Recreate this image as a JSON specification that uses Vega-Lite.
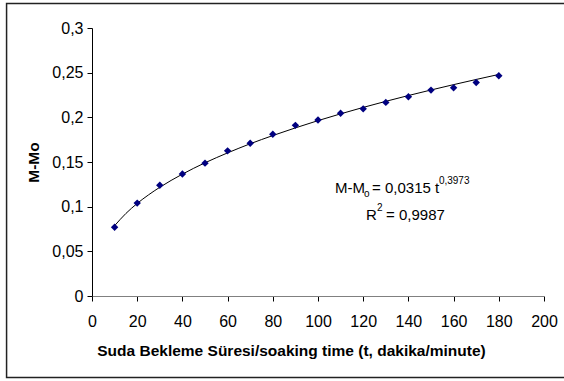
{
  "$schema": "https://vega.github.io/schema/vega-lite/v6.json",
  "autosize": {"type": "none"},
  "width": 452,
  "height": 268,
  "padding": {"left": 92, "top": 28, "right": 20, "bottom": 85},
  "background": "white",
  "config": {
    "view": {"stroke": null},
    "font": "Liberation Sans",
    "axis": {"grid": false, "labelFont": "Liberation Sans", "titleFont": "Liberation Sans", "labelColor": "black", "titleColor": "black", "labelFontSize": 16, "titleFontSize": 15.5, "titleFontWeight": "bold", "tickSize": 5, "labelPadding": 4, "labelFlush": false, "labelOverlap": false}
  },
  "datasets": {
    "obs": [
      {"t": 10, "m": 0.077}, {"t": 20, "m": 0.104}, {"t": 30, "m": 0.124}, {"t": 40, "m": 0.1365},
      {"t": 50, "m": 0.1487}, {"t": 60, "m": 0.1625}, {"t": 70, "m": 0.171}, {"t": 80, "m": 0.181},
      {"t": 90, "m": 0.191}, {"t": 100, "m": 0.197}, {"t": 110, "m": 0.2045}, {"t": 120, "m": 0.2095},
      {"t": 130, "m": 0.2167}, {"t": 140, "m": 0.223}, {"t": 150, "m": 0.2305}, {"t": 160, "m": 0.2331},
      {"t": 170, "m": 0.239}, {"t": 180, "m": 0.2465}
    ],
    "fit": [
      {"t": 10, "m": 0.0787}, {"t": 15, "m": 0.0924}, {"t": 20, "m": 0.1036}, {"t": 25, "m": 0.1132},
      {"t": 30, "m": 0.1217}, {"t": 40, "m": 0.1364}, {"t": 50, "m": 0.1491}, {"t": 60, "m": 0.1602},
      {"t": 70, "m": 0.1704}, {"t": 80, "m": 0.1796}, {"t": 90, "m": 0.1882}, {"t": 100, "m": 0.1963},
      {"t": 110, "m": 0.2039}, {"t": 120, "m": 0.2111}, {"t": 130, "m": 0.2179}, {"t": 140, "m": 0.2244},
      {"t": 150, "m": 0.2306}, {"t": 160, "m": 0.2366}, {"t": 170, "m": 0.2424}, {"t": 180, "m": 0.248}
    ],
    "border": [{"x1": -37.8, "x2": 225, "y1": -0.0912, "y2": 0.3275}],
    "eqMain": [
      {"x": 107.5, "y": 0.1153, "label": "M-M"},
      {"x": 123.9, "y": 0.1153, "label": "= 0,0315 t"},
      {"x": 121.2, "y": 0.0851, "label": "R"},
      {"x": 130.1, "y": 0.0851, "label": "= 0,9987"}
    ],
    "eqSmall": [
      {"x": 120.4, "y": 0.1108, "label": "o"},
      {"x": 153.5, "y": 0.1254, "label": "0,3973"},
      {"x": 126.1, "y": 0.0952, "label": "2"}
    ]
  },
  "layer": [
    {
      "data": {"name": "border"},
      "mark": {"type": "rect", "fill": null, "stroke": "#222222", "strokeWidth": 1.5, "clip": false},
      "encoding": {
        "x": {"field": "x1", "type": "quantitative", "scale": {"domain": [0, 200]}},
        "x2": {"field": "x2"},
        "y": {"field": "y1", "type": "quantitative", "scale": {"domain": [0, 0.3]}},
        "y2": {"field": "y2"}
      }
    },
    {
      "data": {"name": "fit"},
      "mark": {"type": "line", "color": "black", "strokeWidth": 1, "interpolate": "monotone"},
      "encoding": {
        "x": {"field": "t", "type": "quantitative", "scale": {"domain": [0, 200]},
              "axis": {"title": "Suda Bekleme Süresi/soaking time (t, dakika/minute)", "values": [0,20,40,60,80,100,120,140,160,180,200], "format": "d", "domainColor": "#808080", "tickColor": "black", "labelPadding": 12, "titlePadding": 14, "titleX": 199, "titleAlign": "center"}},
        "y": {"field": "m", "type": "quantitative", "scale": {"domain": [0, 0.3]},
              "axis": {"title": "M-Mo", "values": [0,0.05,0.1,0.15,0.2,0.25,0.3], "format": ".2~f", "labelExpr": "replace(datum.label, '.', ',')", "domainColor": "black", "tickColor": "black", "titlePadding": 10}}
      }
    },
    {
      "data": {"name": "obs"},
      "mark": {"type": "point", "shape": "diamond", "filled": true, "color": "#000080", "opacity": 1, "size": 55},
      "encoding": {
        "x": {"field": "t", "type": "quantitative"},
        "y": {"field": "m", "type": "quantitative"}
      }
    },
    {
      "data": {"name": "eqMain"},
      "mark": {"type": "text", "align": "left", "baseline": "alphabetic", "fontSize": 15, "color": "black", "font": "Liberation Sans"},
      "encoding": {
        "x": {"field": "x", "type": "quantitative"},
        "y": {"field": "y", "type": "quantitative"},
        "text": {"field": "label"}
      }
    },
    {
      "data": {"name": "eqSmall"},
      "mark": {"type": "text", "align": "left", "baseline": "alphabetic", "fontSize": 10, "color": "black", "font": "Liberation Sans"},
      "encoding": {
        "x": {"field": "x", "type": "quantitative"},
        "y": {"field": "y", "type": "quantitative"},
        "text": {"field": "label"}
      }
    }
  ]
}
